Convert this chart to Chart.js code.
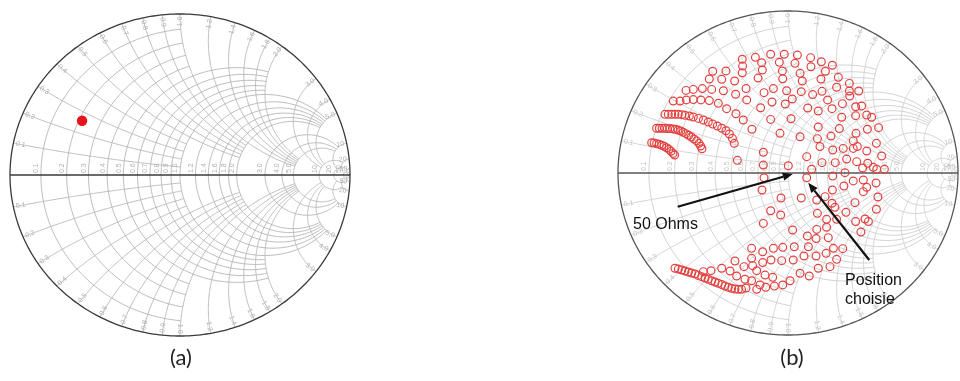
<!DOCTYPE html>
<html><head><meta charset="utf-8">
<script src="https://cdn.jsdelivr.net/npm/chart.js@4.4.0/dist/chart.umd.min.js"></script>
<style>
html,body{margin:0;padding:0;background:#fff;width:960px;height:381px;overflow:hidden;position:relative}
#wa{position:absolute;left:0;top:4px;width:360px;height:342px}
#wb{position:absolute;left:608px;top:1px;width:360px;height:344px}
.cap{position:absolute;width:60px;text-align:center;font-family:Lato,'Open Sans',sans-serif;font-size:22px;line-height:26px;color:#222}
.ann{position:absolute;font-family:'Liberation Sans',Arial,sans-serif;font-size:16px;line-height:19px;color:#111;white-space:nowrap}
</style></head><body>
<div id="wa"><canvas id="ca"></canvas></div>
<div id="wb"><canvas id="cb"></canvas></div>
<div class="cap" style="left:151px;top:344px">(a)</div>
<div class="cap" style="left:762px;top:344px">(b)</div>
<div class="ann" style="left:633px;top:214px">50 Ohms</div>
<div class="ann" style="left:845px;top:270px">Position<br>choisie</div>
<script>
// Smith chart grid values (MATLAB style) and the limit each grid line is drawn to
const gridValues = [50,20,10,5,4,3,2,1.8,1.6,1.4,1.2,1.0,0.9,0.8,0.7,0.6,0.5,0.4,0.3,0.2,0.1];
const gridEnds   = [Infinity,50,20,10,10,10,5,5,5,5,5,5,2,2,2,2,2,1,1,1,1];
const gridLabels = ['50','20','10','5.0','4.0','3.0','2.0','1.8','1.6','1.4','1.2','1.0','0.9','0.8','0.7','0.6','0.5','0.4','0.3','0.2','0.1'];

// (a) single measured reflection coefficient
const pointARe = [-0.576];
const pointAIm = [0.337];

// (b) load-pull reflection coefficients (real / imaginary parts)
const loadRe = [
 -0.269,-0.192,-0.102,-0.022,0.055,0.133,0.196,0.261,
 -0.155,-0.051,0.041,-0.267,0.135,
 -0.443,-0.365,-0.269,-0.151,-0.033,0.071,0.220,
 -0.463,-0.390,-0.314,-0.176,-0.031,0.084,0.194,0.296,
 -0.600,-0.557,-0.504,-0.449,-0.380,-0.247,-0.086,-0.008,0.078,0.200,0.286,0.361,0.416,
 -0.308,-0.141,0.145,
 -0.675,-0.635,-0.598,-0.557,-0.512,-0.463,-0.410,-0.361,-0.306,-0.263,
 -0.243,-0.094,0.025,0.233,0.363,0.320,0.398,
 -0.161,-0.016,0.116,0.178,0.259,0.398,0.463,
 -0.102,0.018,0.316,
 -0.724,-0.704,-0.684,-0.665,-0.645,-0.625,-0.606,-0.580,-0.557,-0.527,-0.498,-0.469,-0.443,-0.416,-0.390,-0.365,-0.345,-0.327,-0.316,
 -0.773,-0.757,-0.741,-0.725,-0.710,-0.694,-0.678,-0.663,-0.647,-0.631,-0.616,-0.600,-0.584,-0.569,-0.553,-0.537,-0.524,-0.514,-0.506,
 -0.802,-0.788,-0.773,-0.757,-0.743,-0.729,-0.714,-0.700,-0.688,-0.676,-0.667,
 -0.212,-0.047,0.071,0.178,0.253,0.302,0.400,0.467,0.533,
 -0.145,0.002,0.110,0.200,0.278,0.345,0.408,0.463,0.520,0.551,0.567,-0.145,-0.298,
 -0.141,0.110,-0.153,-0.041,0.078,0.261,0.329,0.384,0.463,0.518,0.529,0.520,0.394,0.453,0.398,0.341,0.259,
 -0.102,-0.043,0.027,0.114,-0.145,
 -0.214,-0.149,-0.086,-0.031,0.037,0.120,0.165,0.237,0.267,0.322,0.429,0.473,
 0.286,0.247,0.178,0.125,0.071,0.012,-0.031,-0.080,-0.131,-0.184,
 -0.312,-0.259,-0.208,-0.149,-0.100,-0.037,0.031,0.094,0.165,0.224,
 -0.665,-0.645,-0.625,-0.606,-0.586,-0.567,-0.547,-0.527,-0.508,-0.488,-0.469,-0.449,-0.429,-0.410,-0.390,-0.371,-0.351,-0.331,-0.312,-0.292,-0.273,-0.247,
 -0.498,-0.453,-0.390,-0.341,-0.302,-0.253,-0.214,-0.165,
 -0.214,-0.184,-0.135,-0.090,
 0.361,0.492,0.173,0.384,0.439,0.502,0.433,
 0.188,0.263,0.325,0.384,0.469,0.404,0.335,0.263,0.139,0.443,0.522,0.443,0.218,0.169,0.276,0.173,0.227,0.286,0.169,0.227
];
const loadIm = [
 0.702,0.714,0.733,0.733,0.728,0.712,0.687,0.665,
 0.681,0.683,0.677,0.660,0.656,
 0.628,0.630,0.619,0.636,0.630,0.615,0.628,
 0.580,0.578,0.568,0.586,0.582,0.568,0.580,0.591,
 0.510,0.516,0.521,0.516,0.508,0.521,0.521,0.508,0.502,0.504,0.529,0.506,0.506,
 0.486,0.496,0.484,
 0.444,0.444,0.451,0.453,0.451,0.447,0.430,0.397,0.366,0.327,
 0.451,0.438,0.457,0.451,0.475,0.428,0.409,
 0.403,0.426,0.401,0.383,0.397,0.354,0.358,
 0.331,0.335,0.344,
 0.362,0.362,0.362,0.362,0.362,0.360,0.356,0.352,0.346,0.337,0.327,0.315,0.302,0.290,0.276,0.261,0.241,0.214,0.183,
 0.276,0.276,0.276,0.276,0.274,0.274,0.272,0.270,0.265,0.259,0.251,0.243,0.233,0.222,0.210,0.198,0.183,0.167,0.150,
 0.187,0.185,0.181,0.177,0.171,0.165,0.156,0.146,0.134,0.121,0.111,
 0.270,0.245,0.224,0.284,0.228,0.274,0.245,0.270,0.280,
 0.128,0.045,0.101,0.064,0.064,0.086,0.163,0.136,0.183,0.105,0.023,0.049,0.078,
 -0.029,-0.029,-0.105,-0.154,-0.154,-0.105,-0.080,-0.049,-0.088,-0.062,-0.148,-0.224,-0.183,-0.284,-0.300,-0.243,-0.187,
 -0.233,-0.259,-0.352,-0.389,-0.311,
 -0.465,-0.486,-0.465,-0.459,-0.455,-0.455,-0.405,-0.399,-0.465,-0.467,-0.364,-0.300,
 -0.533,-0.578,-0.588,-0.636,-0.619,-0.665,-0.691,-0.698,-0.706,-0.718,
 -0.543,-0.578,-0.572,-0.553,-0.537,-0.541,-0.537,-0.512,-0.512,-0.496,
 -0.588,-0.593,-0.599,-0.605,-0.611,-0.617,-0.623,-0.632,-0.640,-0.648,-0.656,-0.665,-0.673,-0.681,-0.689,-0.698,-0.706,-0.712,-0.716,-0.718,-0.718,-0.710,
 -0.609,-0.603,-0.588,-0.605,-0.636,-0.656,-0.665,-0.691,
 -0.527,-0.603,-0.630,-0.644,
 0.553,0.344,0.212,0.152,0.031,0.035,0.414,
 0.163,0.142,0.152,0.198,0.060,0.070,0.002,-0.019,0.023,-0.043,0.023,-0.115,-0.146,-0.167,-0.212,-0.249,-0.286,-0.286,-0.348,-0.335
];

// annotation arrows of chart (b): tail -> head, in reflection-coefficient units
const arrowTails = [[-0.649,-0.208],[0.478,-0.537]];
const arrowHeads = [[0.028,-0.006],[0.119,-0.060]];

function zToGamma(r, x){
  const a=r-1, b=x, c=r+1, d=x, den=c*c+d*d;
  return [(a*c+b*d)/den, (b*c-a*d)/den];
}

function smithPlugin(gridColor, rimColor, labelColor){
  return {
    id:'smith',
    beforeDatasetsDraw(chart){
      const ctx=chart.ctx, sx=chart.scales.x, sy=chart.scales.y;
      const P=(re,im)=>[sx.getPixelForValue(re), sy.getPixelForValue(im)];
      const poly=(pts)=>{ctx.beginPath(); pts.forEach((p,i)=>{const q=P(p[0],p[1]); if(i) ctx.lineTo(q[0],q[1]); else ctx.moveTo(q[0],q[1]);}); ctx.stroke();};
      ctx.save();
      ctx.lineWidth=0.9; ctx.strokeStyle=gridColor;
      const N=160;
      gridValues.forEach((v,k)=>{
        const e=gridEnds[k];
        const cx=v/(1+v), R=1/(1+v);
        let t0=0;
        if(isFinite(e)){const g=zToGamma(v,e); t0=Math.atan2(g[1], g[0]-cx);}
        const pts=[];
        for(let i=0;i<=N;i++){const t=t0+(2*Math.PI-2*t0)*i/N; pts.push([cx+R*Math.cos(t), R*Math.sin(t)]);}
        poly(pts);
        [1,-1].forEach(s=>{
          const ccx=1, ccy=s/v, RR=1/v;
          const g0=zToGamma(0,s*v);
          const g1=isFinite(e)?zToGamma(e,s*v):[1,0];
          const p0=Math.atan2(g0[1]-ccy,g0[0]-ccx);
          let p1=Math.atan2(g1[1]-ccy,g1[0]-ccx);
          let d=p1-p0; while(d>Math.PI) d-=2*Math.PI; while(d<=-Math.PI) d+=2*Math.PI;
          const a=[];
          for(let i=0;i<=N;i++){const t=p0+d*i/N; a.push([ccx+RR*Math.cos(t), ccy+RR*Math.sin(t)]);}
          poly(a);
        });
      });
      ctx.strokeStyle=rimColor; ctx.lineWidth=1.3;
      poly([[-1,0],[1,0]]);
      const rim=[]; for(let i=0;i<=360;i++){const t=2*Math.PI*i/360; rim.push([Math.cos(t),Math.sin(t)]);}
      poly(rim);
      ctx.fillStyle=labelColor; ctx.font='7px "Liberation Sans", Arial, sans-serif';
      ctx.textBaseline='bottom';
      const c0=P(0,0);
      gridValues.forEach((v,k)=>{
        const q=P((v-1)/(v+1),0);
        ctx.save(); ctx.translate(q[0]-1,q[1]-2); ctx.rotate(-Math.PI/2);
        ctx.textAlign='left'; ctx.fillText(gridLabels[k],0,0); ctx.restore();
        [1,-1].forEach(s=>{
          const g=zToGamma(0,s*v); const q2=P(g[0]*0.985,g[1]*0.985);
          const b=Math.atan2(q2[1]-c0[1], q2[0]-c0[0]);
          ctx.save(); ctx.translate(q2[0],q2[1]);
          ctx.textBaseline='middle';
          if(Math.cos(b)<0){ctx.rotate(b+Math.PI); ctx.textAlign='left';}
          else {ctx.rotate(b); ctx.textAlign='right';}
          ctx.fillText(gridLabels[k],0,0); ctx.restore();
        });
      });
      ctx.restore();
    }
  };
}

const arrowPlugin = {
  id:'arrows',
  afterDatasetsDraw(chart){
    const ctx=chart.ctx, sx=chart.scales.x, sy=chart.scales.y;
    ctx.save(); ctx.strokeStyle='#111'; ctx.fillStyle='#111'; ctx.lineWidth=2.2;
    arrowTails.forEach((t,i)=>{
      const h=arrowHeads[i];
      const x0=sx.getPixelForValue(t[0]), y0=sy.getPixelForValue(t[1]);
      const x1=sx.getPixelForValue(h[0]), y1=sy.getPixelForValue(h[1]);
      const a=Math.atan2(y1-y0,x1-x0), L=10, W=4;
      const bx=x1-L*Math.cos(a), by=y1-L*Math.sin(a);
      ctx.beginPath(); ctx.moveTo(x0,y0); ctx.lineTo(bx,by); ctx.stroke();
      ctx.beginPath(); ctx.moveTo(x1,y1);
      ctx.lineTo(bx+W*Math.sin(a), by-W*Math.cos(a));
      ctx.lineTo(bx-W*Math.sin(a), by+W*Math.cos(a));
      ctx.closePath(); ctx.fill();
    });
    ctx.restore();
  }
};

function baseOptions(){
  return {
    responsive:true, maintainAspectRatio:false, animation:false, events:[],
    layout:{padding:10},
    scales:{x:{type:'linear',min:-1,max:1,display:false}, y:{type:'linear',min:-1,max:1,display:false}},
    plugins:{legend:{display:false}, tooltip:{enabled:false}, title:{display:false}}
  };
}

new Chart(document.getElementById('ca'), {
  type:'scatter',
  data:{datasets:[{
    data: pointARe.map((r,i)=>({x:r, y:pointAIm[i]})),
    pointRadius:5.2, pointBackgroundColor:'#e8141c', pointBorderColor:'#e8141c', pointBorderWidth:0, clip:false
  }]},
  options: baseOptions(),
  plugins:[smithPlugin('#b4b4b4','#3a3a3a','#b0b0b0')]
});

new Chart(document.getElementById('cb'), {
  type:'scatter',
  data:{datasets:[{
    data: loadRe.map((r,i)=>({x:r, y:loadIm[i]})),
    pointRadius:3.9, pointBackgroundColor:'rgba(255,255,255,0)', pointBorderColor:'#e2413f', pointBorderWidth:1.2, clip:false
  }]},
  options: baseOptions(),
  plugins:[smithPlugin('#cdcdcd','#555555','#c4c4c4'), arrowPlugin]
});
</script>
</body></html>
